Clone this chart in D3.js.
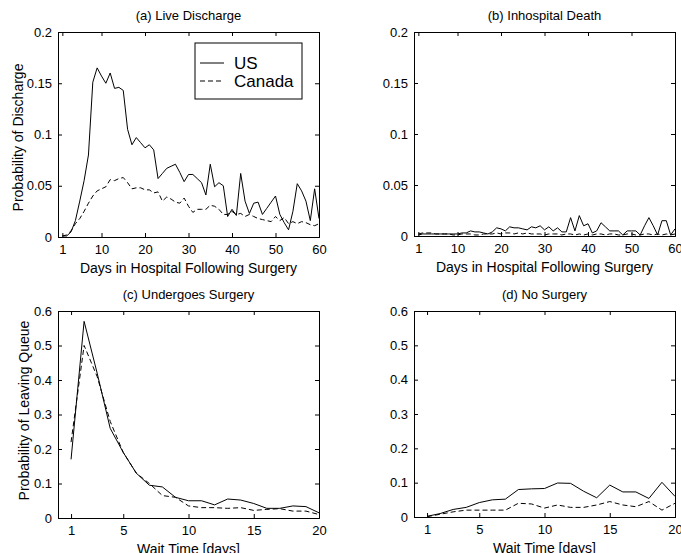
<!DOCTYPE html>
<html><head><meta charset="utf-8">
<script src="https://cdn.jsdelivr.net/npm/d3@7"></script>
<style>
body{margin:0;background:#fff;}
svg text{font-family:"Liberation Sans",Arial,Helvetica,sans-serif;fill:#000;}
</style></head>
<body><svg id="c" width="681" height="553"></svg>
<script>
// ---------- data ----------
const days = d3.range(1, 61);
const waitDays = d3.range(1, 21);

const dischargeUS = [0.001,0.001,0.005,0.016,0.035,0.055,0.08,0.151,0.165,0.157,0.150,0.160,0.145,0.146,0.143,0.105,0.090,0.097,0.092,0.087,0.090,0.085,0.057,0.062,0.067,0.069,0.071,0.063,0.054,0.061,0.061,0.057,0.053,0.041,0.071,0.049,0.053,0.050,0.020,0.027,0.021,0.062,0.035,0.023,0.033,0.034,0.022,0.028,0.034,0.040,0.022,0.014,0.007,0.025,0.052,0.045,0.035,0.016,0.047,0.018];
const dischargeCA = [0.001,0.002,0.006,0.013,0.018,0.025,0.033,0.040,0.045,0.047,0.049,0.056,0.055,0.057,0.058,0.053,0.047,0.048,0.048,0.046,0.046,0.043,0.044,0.035,0.039,0.037,0.034,0.033,0.038,0.030,0.024,0.027,0.027,0.027,0.031,0.030,0.027,0.022,0.022,0.025,0.022,0.023,0.020,0.022,0.020,0.018,0.017,0.016,0.015,0.020,0.016,0.019,0.013,0.015,0.013,0.015,0.014,0.012,0.011,0.013];

const deathUS = [0.001,0.002,0.002,0.002,0.002,0.002,0.002,0.002,0.002,0.002,0.003,0.003,0.005,0.004,0.004,0.003,0.002,0.004,0.008,0.007,0.005,0.009,0.008,0.008,0.007,0.006,0.009,0.008,0.010,0.006,0.009,0.005,0.008,0.004,0.004,0.018,0.005,0.020,0.010,0.012,0.003,0.005,0.013,0.009,0.005,0.005,0.005,0.001,0.005,0.005,0.005,0.001,0.010,0.018,0.010,0.001,0.015,0.015,0.001,0.007];
const deathCA = [0.002,0.003,0.003,0.003,0.002,0.002,0.002,0.002,0.001,0.001,0.002,0.002,0.002,0.001,0.001,0.002,0.002,0.002,0.003,0.002,0.003,0.003,0.002,0.003,0.002,0.003,0.002,0.002,0.002,0.001,0.002,0.002,0.002,0.001,0.002,0.002,0.001,0.002,0.001,0.002,0.001,0.002,0.002,0.001,0.002,0.002,0.001,0.001,0.002,0.002,0.001,0.001,0.002,0.002,0.001,0.002,0.001,0.002,0.001,0.002];

const surgeryUS = [0.17,0.57,0.42,0.26,0.19,0.13,0.095,0.09,0.06,0.05,0.05,0.038,0.055,0.052,0.042,0.028,0.028,0.035,0.033,0.015];
const surgeryCA = [0.22,0.50,0.41,0.28,0.19,0.13,0.10,0.065,0.06,0.035,0.03,0.03,0.028,0.03,0.022,0.025,0.027,0.02,0.02,0.01];

const noSurgeryUS = [0.002,0.01,0.022,0.028,0.042,0.05,0.052,0.08,0.082,0.083,0.099,0.098,0.075,0.056,0.093,0.073,0.073,0.054,0.101,0.06];
const noSurgeryCA = [0.001,0.008,0.015,0.02,0.02,0.02,0.02,0.04,0.038,0.026,0.035,0.028,0.028,0.035,0.045,0.035,0.03,0.045,0.02,0.04];

const dayTicks = [1,10,20,30,40,50,60];
const waitTicks = [1,5,10,15,20];
const probTicksA = [0,0.05,0.1,0.15,0.2];
const probTicksC = [0,0.1,0.2,0.3,0.4,0.5,0.6];
const seriesNames = ["US","Canada"];

// ---------- drawing ----------
const svg = d3.select("#c");
const fmt = d => d===0 ? "0" : String(d);

function panel(o){
  const x = d3.scaleLinear().domain(o.xDomain).range([o.left, o.right]);
  const y = d3.scaleLinear().domain(o.yDomain).range([o.bottom, o.top]);
  const g = svg.append("g");
  const tl = 4;
  const ax = g.append("g").attr("transform",`translate(0,${o.bottom})`)
    .call(d3.axisBottom(x).tickValues(o.xTicks).tickSize(-tl).tickPadding(8).tickFormat(fmt));
  const axT = g.append("g").attr("transform",`translate(0,${o.top})`)
    .call(d3.axisTop(x).tickValues(o.xTicks).tickSize(-tl).tickFormat(""));
  const ay = g.append("g").attr("transform",`translate(${o.left},0)`)
    .call(d3.axisLeft(y).tickValues(o.yTicks).tickSize(-tl).tickPadding(6).tickFormat(fmt));
  const ayR = g.append("g").attr("transform",`translate(${o.right},0)`)
    .call(d3.axisRight(y).tickValues(o.yTicks).tickSize(-tl).tickFormat(""));
  [ax,axT,ay,ayR].forEach(a=>{
    a.select(".domain").attr("stroke","#000").attr("stroke-width",1);
    a.selectAll(".tick line").attr("stroke","#000");
    a.selectAll("text").attr("font-size",13).attr("font-family","Liberation Sans, Arial, sans-serif");
  });
  const line = d3.line().x((d,i)=>x(o.xs[i])).y(d=>y(d));
  g.append("path").datum(o.ca).attr("d",line).attr("fill","none")
    .attr("stroke","#000").attr("stroke-width",1).attr("stroke-dasharray","5,3");
  g.append("path").datum(o.us).attr("d",line).attr("fill","none")
    .attr("stroke","#000").attr("stroke-width",1);
  g.append("text").attr("x",(o.left+o.right)/2).attr("y",o.top-12)
    .attr("text-anchor","middle").attr("font-size",13).text(o.title);
  if(o.xLabel) g.append("text").attr("x",(o.left+o.right)/2).attr("y",o.bottom+36)
    .attr("text-anchor","middle").attr("font-size",14).text(o.xLabel);
  if(o.yLabel) g.append("text")
    .attr("transform",`translate(${o.yLabelX},${(o.top+o.bottom)/2 + (o.yLabelShift||0)}) rotate(-90)`)
    .attr("text-anchor","middle").attr("font-size",14).text(o.yLabel);
  return {x,y,g};
}

panel({left:58,right:319,top:32,bottom:237,xDomain:[0,60],yDomain:[0,0.2],
  xTicks:dayTicks,yTicks:probTicksA,xs:days,us:dischargeUS,ca:dischargeCA,
  title:"(a) Live Discharge",xLabel:"Days in Hospital Following Surgery",
  yLabel:"Probability of Discharge",yLabelX:23,yLabelShift:3});
panel({left:414,right:675,top:32,bottom:236,xDomain:[0,60],yDomain:[0,0.2],
  xTicks:dayTicks,yTicks:probTicksA,xs:days,us:deathUS,ca:deathCA,
  title:"(b) Inhospital Death",xLabel:"Days in Hospital Following Surgery"});
panel({left:58,right:319,top:311,bottom:518,xDomain:[0,20],yDomain:[0,0.6],
  xTicks:waitTicks,yTicks:probTicksC,xs:waitDays,us:surgeryUS,ca:surgeryCA,
  title:"(c) Undergoes Surgery",xLabel:"Wait Time [days]",
  yLabel:"Probability of Leaving Queue",yLabelX:29,yLabelShift:-4});
panel({left:414,right:675,top:311,bottom:517,xDomain:[0,20],yDomain:[0,0.6],
  xTicks:waitTicks,yTicks:probTicksC,xs:waitDays,us:noSurgeryUS,ca:noSurgeryCA,
  title:"(d) No Surgery",xLabel:"Wait Time [days]"});

// legend in panel (a)
const lg = svg.append("g");
lg.append("rect").attr("x",195).attr("y",43).attr("width",107).attr("height",56)
  .attr("fill","#fff").attr("stroke","#000").attr("stroke-width",1);
seriesNames.forEach((n,i)=>{
  const yy = 63 + i*18;
  lg.append("line").attr("x1",200).attr("x2",224).attr("y1",yy).attr("y2",yy)
    .attr("stroke","#000").attr("stroke-width",1)
    .attr("stroke-dasharray", i===1 ? "5,3" : null);
  lg.append("text").attr("x",234).attr("y",yy+6).attr("font-size",17).text(n);
});
</script></body></html>
